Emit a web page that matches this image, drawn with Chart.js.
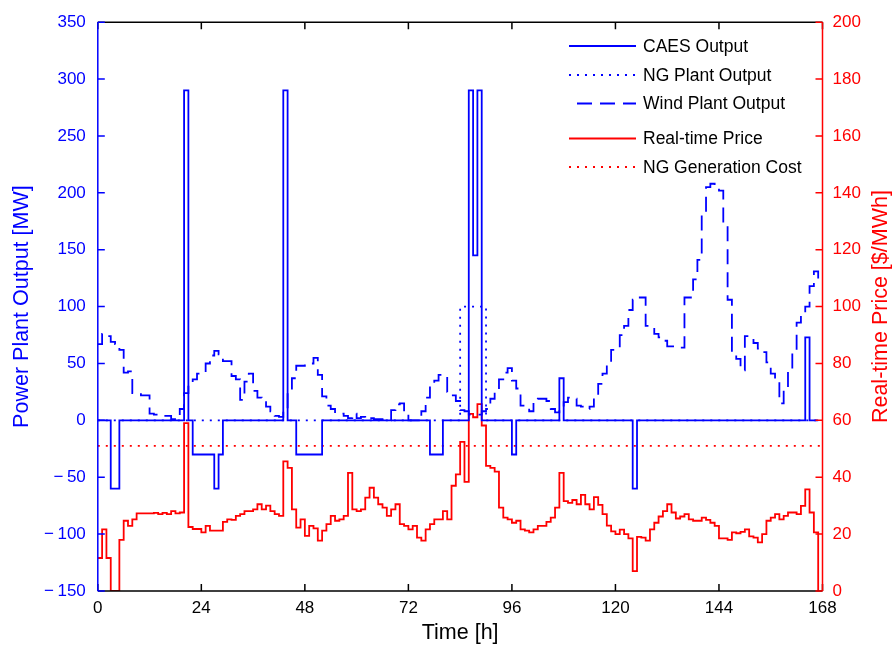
<!DOCTYPE html>
<html>
<head>
<meta charset="utf-8">
<script src="https://cdn.jsdelivr.net/npm/chart.js@4.4.0/dist/chart.umd.min.js"></script>
<style>
    html, body { margin: 0; padding: 0; background: #fff; }
</style>
</head>
<body>
<canvas id="caesChart" width="896" height="654"></canvas>
<script>
// hourly values, one entry per hour starting at hour 0
const caesOutput = [
    0, 0, 0, -60, -60, 0, 0, 0, 0, 0, 0, 0, 0, 0, 0, 0, 0, 0, 0, 0,
    290, 0, -30, -30, -30, -30, -30, -60, -30, 0, 0, 0, 0, 0, 0, 0, 0, 0, 0, 0,
    0, 0, 0, 290, 0, 0, -30, -30, -30, -30, -30, -30, 0, 0, 0, 0, 0, 0, 0, 0,
    0, 0, 0, 0, 0, 0, 0, 0, 0, 0, 0, 0, 0, 0, 0, 0, 0, -30, -30, -30,
    0, 0, 0, 0, 0, 0, 290, 145, 290, 0, 0, 0, 0, 0, 0, 0, -30, 0, 0, 0,
    0, 0, 0, 0, 0, 0, 0, 37, 0, 0, 0, 0, 0, 0, 0, 0, 0, 0, 0, 0,
    0, 0, 0, 0, -60, 0, 0, 0, 0, 0, 0, 0, 0, 0, 0, 0, 0, 0, 0, 0,
    0, 0, 0, 0, 0, 0, 0, 0, 0, 0, 0, 0, 0, 0, 0, 0, 0, 0, 0, 0,
    0, 0, 0, 0, 73, 0, 0, 0
];

const ngPlantOutput = [
    0, 0, 0, 0, 0, 0, 0, 0, 0, 0, 0, 0, 0, 0, 0, 0, 0, 0, 0, 0,
    0, 0, 0, 0, 0, 0, 0, 0, 0, 0, 0, 0, 0, 0, 0, 0, 0, 0, 0, 0,
    0, 0, 0, 0, 0, 0, 0, 0, 0, 0, 0, 0, 0, 0, 0, 0, 0, 0, 0, 0,
    0, 0, 0, 0, 0, 0, 0, 0, 0, 0, 0, 0, 0, 0, 0, 0, 0, 0, 0, 0,
    0, 0, 0, 0, 100, 100, 100, 100, 100, 100, 0, 0, 0, 0, 0, 0, 0, 0, 0, 0,
    0, 0, 0, 0, 0, 0, 0, 0, 0, 0, 0, 0, 0, 0, 0, 0, 0, 0, 0, 0,
    0, 0, 0, 0, 0, 0, 0, 0, 0, 0, 0, 0, 0, 0, 0, 0, 0, 0, 0, 0,
    0, 0, 0, 0, 0, 0, 0, 0, 0, 0, 0, 0, 0, 0, 0, 0, 0, 0, 0, 0,
    0, 0, 0, 0, 0, 0, 0, 0
];

const windOutput = [
    67, 76, 74, 69, 67, 62, 42, 43, 24, 23, 22, 22, 6, 5, 4, 4, 4, 1, 1, 10,
    24, 33, 36, 41, 42, 50, 57, 61, 58, 52, 52, 39, 36, 18, 34, 41, 26, 20, 16, 12,
    8, 4, 3, 10, 25, 37, 48, 48, 50, 50, 55, 40, 21, 13, 10, 6, 6, 4, 2, 6,
    2, 3, 1, 2, 1, 1, 0.5, 0, 9, 14, 15, 6, 0, 0, 0, 8, 20, 32, 35, 40,
    40, 25, 22, 17, 9, 8, 5, 5, 5, 8, 10, 19, 26, 36, 42, 46, 35, 28, 13, 13,
    8, 16, 19, 19, 17, 10, 7, 12, 16, 20, 19, 13, 12, 10, 12, 22, 32, 41, 50, 62,
    63, 75, 83, 97, 106, 108, 108, 83, 82, 76, 73, 70, 65, 65, 64, 64, 108, 108, 124, 141,
    182, 205, 208, 205, 202, 172, 106, 57, 54, 44, 74, 74, 68, 63, 60, 51, 41, 36, 15, 27,
    45, 60, 86, 92, 100, 118, 131, 118
];

const realTimePrice = [
    11.6, 21.7, 11.6, 0, 0, 18, 24.7, 22.9, 25.2, 27.3, 27.3, 27.3, 27.3, 27.5, 27, 27.5, 27, 28.1, 27.3, 27.6,
    59, 22.5, 21.8, 21.8, 20.6, 22.9, 21.2, 21.2, 21.2, 24.3, 25.2, 25, 26.4, 27, 28.1, 28.1, 28.7, 30.5, 28.7, 30,
    28.1, 27, 26.4, 45.6, 43.3, 28.7, 22.3, 25.2, 19.4, 22.9, 22, 17.7, 21.2, 23.5, 26.4, 24.7, 25.2, 26.4, 41.5, 28.7,
    28.1, 28.7, 32.8, 36.3, 32.8, 30.5, 29.3, 26.4, 28.7, 30.5, 23.5, 22.9, 21.7, 22.9, 18.8, 17.7, 21.7, 23.5, 25.2, 25.2,
    28.1, 25.2, 37, 41, 52.4, 38.4, 62.3, 61.1, 65.7, 58.2, 44, 43.3, 42, 29.3, 25.8, 25.2, 24, 24.7, 21.7, 21.2,
    20.6, 21.7, 22.9, 22.9, 24.3, 25.8, 29.3, 41.5, 31.6, 31, 32, 30.5, 33.8, 30.5, 28.7, 33, 30.3, 27, 23, 21,
    20, 21.6, 20, 18.5, 7, 19, 18.8, 17.7, 21.7, 24, 26.2, 28.1, 30.5, 27.6, 25.5, 26.2, 27, 25.2, 24.7, 24.7,
    25.8, 25, 24, 22.9, 18.5, 18.5, 18, 20.6, 20.3, 20.8, 21.7, 19.2, 18.8, 17.1, 20, 24.7, 25.8, 27, 25.2, 26.4,
    27.6, 27.6, 27, 29.9, 35.7, 27.6, 20.6, 0
];

const ngCostHours = [0, 168];
const ngCostValues = [51, 51];

const timeTicks = [0, 24, 48, 72, 96, 120, 144, 168];
const powerTicks = [-150, -100, -50, 0, 50, 100, 150, 200, 250, 300, 350];
const priceTicks = [0, 20, 40, 60, 80, 100, 120, 140, 160, 180, 200];

const BLUE = "#0000ff";
const RED = "#ff0000";
const FONT = "'Liberation Sans', Arial, sans-serif";

const asPoints = arr => arr.map((v, i) => ({ x: i, y: v }));

// matlab draws a wide minus in front of negative tick labels
const tickText = v => (v < 0 ? "\u2212\u2009" + Math.abs(v) : String(v));

// inward ticks, axis box, titles and the legend, drawn the way matlab does it
const matlabFrame = {
    id: "matlabFrame",
    afterDraw(chart) {
        const { ctx, chartArea: a, scales } = chart;
        const tl = 7;
        ctx.save();
        ctx.lineWidth = 1.5;

        ctx.strokeStyle = "#000";
        ctx.beginPath();
        ctx.moveTo(a.left, a.top); ctx.lineTo(a.right, a.top);
        ctx.moveTo(a.left, a.bottom); ctx.lineTo(a.right, a.bottom);
        timeTicks.forEach(t => {
            const x = scales.x.getPixelForValue(t);
            ctx.moveTo(x, a.bottom); ctx.lineTo(x, a.bottom - tl);
            ctx.moveTo(x, a.top); ctx.lineTo(x, a.top + tl);
        });
        ctx.stroke();

        ctx.strokeStyle = BLUE;
        ctx.beginPath();
        ctx.moveTo(a.left, a.top); ctx.lineTo(a.left, a.bottom);
        powerTicks.forEach(t => {
            const y = scales.y.getPixelForValue(t);
            ctx.moveTo(a.left, y); ctx.lineTo(a.left + tl, y);
        });
        ctx.stroke();

        ctx.strokeStyle = RED;
        ctx.beginPath();
        ctx.moveTo(a.right, a.top); ctx.lineTo(a.right, a.bottom);
        priceTicks.forEach(t => {
            const y = scales.y1.getPixelForValue(t);
            ctx.moveTo(a.right, y); ctx.lineTo(a.right - tl, y);
        });
        ctx.stroke();

        // axis titles
        ctx.font = "21.5px " + FONT;
        ctx.textAlign = "center";
        ctx.textBaseline = "middle";
        ctx.fillStyle = "#000";
        ctx.fillText("Time [h]", (a.left + a.right) / 2, 633);

        ctx.save();
        ctx.translate(22, (a.top + a.bottom) / 2);
        ctx.rotate(-Math.PI / 2);
        ctx.fillStyle = BLUE;
        ctx.fillText("Power Plant Output [MW]", 0, 0);
        ctx.restore();

        ctx.save();
        ctx.translate(881, (a.top + a.bottom) / 2);
        ctx.rotate(-Math.PI / 2);
        ctx.fillStyle = RED;
        ctx.fillText("Real-time Price [$/MWh]", 0, 0);
        ctx.restore();

        // legend
        const rows = [46, 75, 103.5, 138.5, 167];
        ctx.font = "17.5px " + FONT;
        ctx.textAlign = "left";
        chart.data.datasets.forEach((ds, i) => {
            const y = rows[i];
            ctx.strokeStyle = ds.borderColor;
            ctx.lineWidth = ds.borderWidth;
            ctx.setLineDash(ds.borderDash || []);
            ctx.lineDashOffset = ds.legendDashOffset || 0;
            ctx.beginPath();
            ctx.moveTo(569, y);
            ctx.lineTo(636, y);
            ctx.stroke();
            ctx.setLineDash([]);
            ctx.fillStyle = "#000";
            ctx.fillText(ds.label, 643, y + 1);
        });
        ctx.restore();
    }
};

const ctx = document.getElementById("caesChart");

new Chart(ctx, {
    type: "line",
    data: {
        datasets: [
            {
                label: "CAES Output",
                data: asPoints(caesOutput),
                borderColor: BLUE,
                borderWidth: 1.8,
                yAxisID: "y"
            },
            {
                label: "NG Plant Output",
                data: asPoints(ngPlantOutput),
                borderColor: BLUE,
                borderWidth: 1.8,
                borderDash: [2, 6],
                yAxisID: "y"
            },
            {
                label: "Wind Plant Output",
                data: asPoints(windOutput),
                borderColor: BLUE,
                borderWidth: 1.8,
                borderDash: [15, 8],
                legendDashOffset: 15,
                yAxisID: "y"
            },
            {
                label: "Real-time Price",
                data: asPoints(realTimePrice),
                borderColor: RED,
                borderWidth: 1.8,
                yAxisID: "y1"
            },
            {
                label: "NG Generation Cost",
                data: ngCostHours.map((h, i) => ({ x: h, y: ngCostValues[i] })),
                borderColor: RED,
                borderWidth: 1.8,
                borderDash: [2, 6],
                yAxisID: "y1"
            }
        ]
    },
    options: {
        responsive: false,
        animation: false,
        devicePixelRatio: 1,
        layout: { padding: { top: 17.7 } },
        elements: {
            point: { radius: 0 },
            line: { stepped: "before", tension: 0, fill: false }
        },
        plugins: {
            legend: { display: false },
            tooltip: { enabled: false }
        },
        scales: {
            x: {
                type: "linear",
                min: 0,
                max: 168,
                afterBuildTicks: s => { s.ticks = timeTicks.map(v => ({ value: v })); },
                afterFit: s => { s.height = 63; },
                grid: { display: false, drawTicks: false },
                border: { display: false },
                ticks: { color: "#000", padding: 7, font: { family: FONT, size: 17 } }
            },
            y: {
                position: "left",
                min: -150,
                max: 350,
                afterBuildTicks: s => { s.ticks = powerTicks.map(v => ({ value: v })); },
                afterFit: s => { s.width = 97.8; },
                grid: { display: false, drawTicks: false },
                border: { display: false },
                ticks: { color: BLUE, padding: 12, font: { family: FONT, size: 17 }, callback: tickText }
            },
            y1: {
                position: "right",
                min: 0,
                max: 200,
                afterBuildTicks: s => { s.ticks = priceTicks.map(v => ({ value: v })); },
                afterFit: s => { s.width = 896 - 822.5; },
                grid: { display: false, drawTicks: false },
                border: { display: false },
                ticks: { color: RED, padding: 10, font: { family: FONT, size: 17 } }
            }
        }
    },
    plugins: [matlabFrame]
});
</script>
</body>
</html>
